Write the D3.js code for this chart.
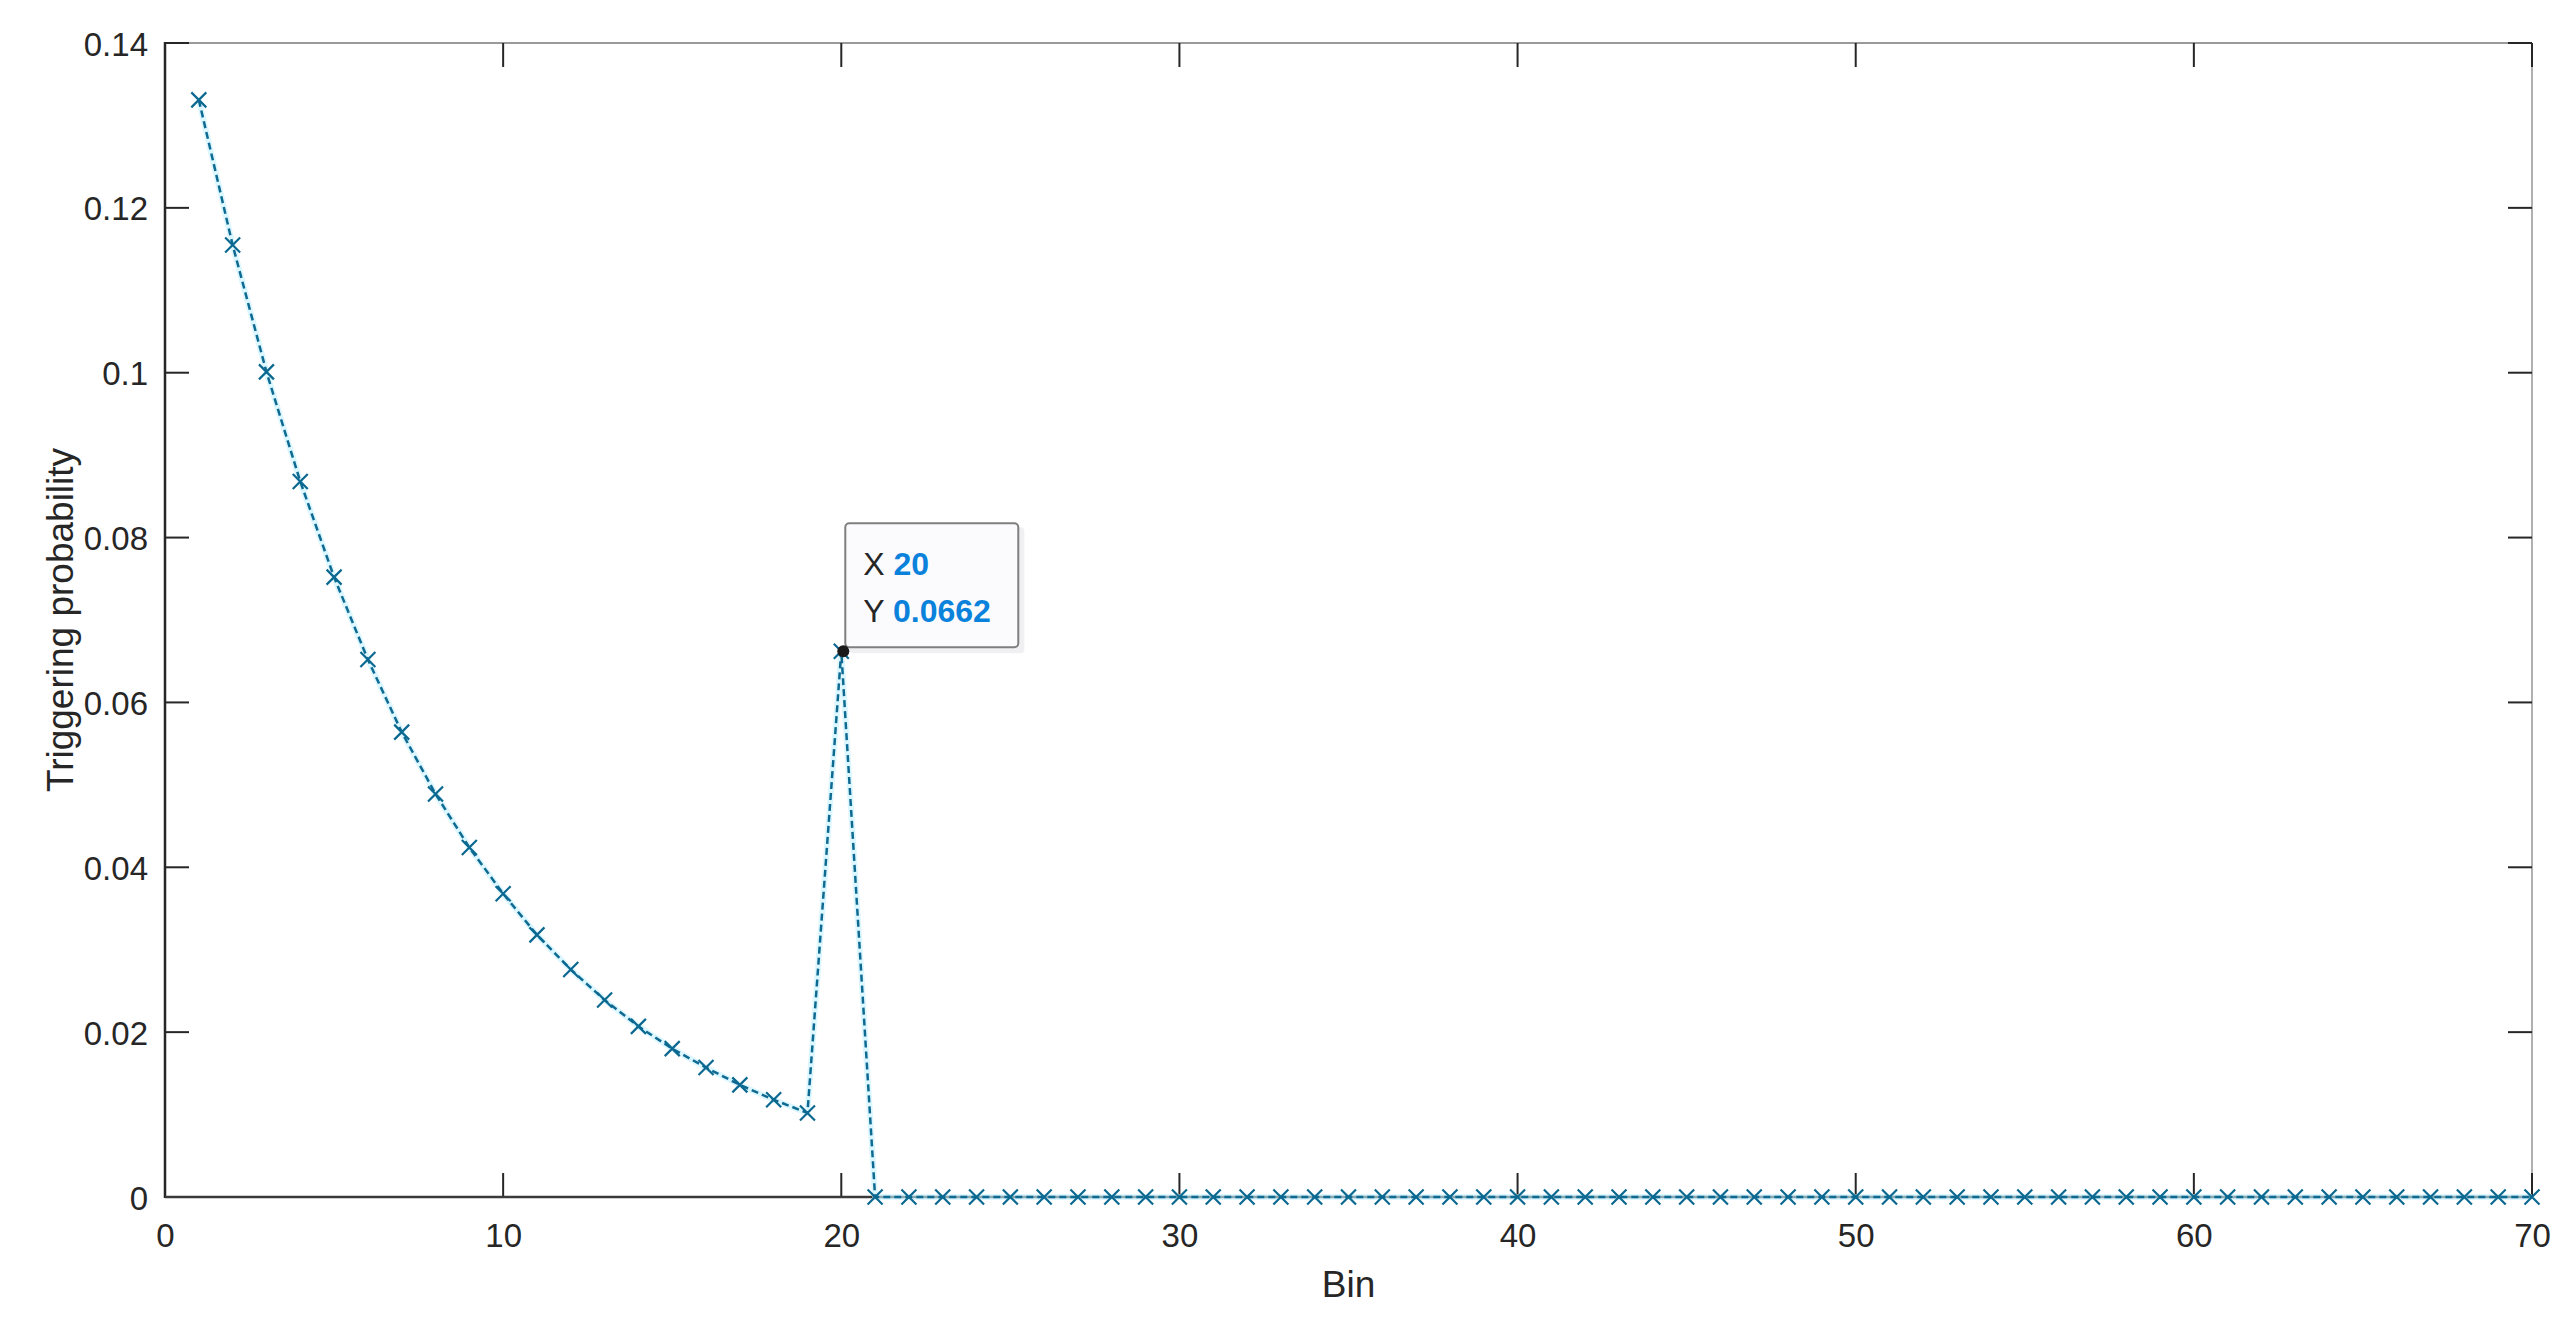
<!DOCTYPE html>
<html>
<head>
<meta charset="utf-8">
<script src="https://cdn.jsdelivr.net/npm/d3@7"></script>
<style>
  html, body { margin: 0; padding: 0; background: #fff; }
  svg text { font-family: "Liberation Sans", Arial, Helvetica, sans-serif; fill: #262626; }
</style>
</head>
<body>
<svg id="chart" width="2572" height="1328"></svg>
<script>
// values
const bins = [
  1, 2, 3, 4, 5, 6, 7, 8, 9, 10,
  11, 12, 13, 14, 15, 16, 17, 18, 19, 20,
  21, 22, 23, 24, 25, 26, 27, 28, 29, 30,
  31, 32, 33, 34, 35, 36, 37, 38, 39, 40,
  41, 42, 43, 44, 45, 46, 47, 48, 49, 50,
  51, 52, 53, 54, 55, 56, 57, 58, 59, 60,
  61, 62, 63, 64, 65, 66, 67, 68, 69, 70
];
const probability = [
  0.1331, 0.1155, 0.1001, 0.0868, 0.0752, 0.0652, 0.0564, 0.0489, 0.0424, 0.0368,
  0.0318, 0.0276, 0.0239, 0.0207, 0.0180, 0.0157, 0.0136, 0.0118, 0.0102, 0.0662,
  0, 0, 0, 0, 0, 0, 0, 0, 0, 0,
  0, 0, 0, 0, 0, 0, 0, 0, 0, 0,
  0, 0, 0, 0, 0, 0, 0, 0, 0, 0,
  0, 0, 0, 0, 0, 0, 0, 0, 0, 0,
  0, 0, 0, 0, 0, 0, 0, 0, 0, 0
];
const xTicks = [0, 10, 20, 30, 40, 50, 60, 70];
const yTicks = [0, 0.02, 0.04, 0.06, 0.08, 0.1, 0.12, 0.14];
const tipBin = 20;

const plotL = 165, plotR = 2532, plotT = 43, plotB = 1197;
const tickLen = 24;
const lineColor = "#0f6a92";

const svg = d3.select("#chart");

const x = d3.scaleLinear().domain([0, 70]).range([plotL, plotR]);
const y = d3.scaleLinear().domain([0, 0.14]).range([plotB, plotT]);

const points = bins.map((b, i) => ({ bin: b, p: probability[i] }));

// box: top and right edges lighter
svg.append("line").attr("x1", plotL).attr("x2", plotR).attr("y1", plotT).attr("y2", plotT)
  .attr("stroke", "#9a9a9a").attr("stroke-width", 2);
svg.append("line").attr("x1", plotR).attr("x2", plotR).attr("y1", plotT).attr("y2", plotB)
  .attr("stroke", "#b0b0b0").attr("stroke-width", 2);

// bottom axis
const xAxis = d3.axisBottom(x).tickValues(xTicks).tickSize(0).tickPadding(0)
  .tickFormat(d3.format("d"));
const gx = svg.append("g").attr("transform", `translate(0,${plotB})`).call(xAxis);
gx.select(".domain").remove();
gx.selectAll("text").attr("font-size", 33).attr("dy", null).attr("y", 50)
  .style("fill", "#262626");

// left axis
const yAxis = d3.axisLeft(y).tickValues(yTicks).tickSize(0).tickPadding(0)
  .tickFormat(d => d === 0 ? "0" : String(+d.toFixed(2)));
const gy = svg.append("g").attr("transform", `translate(${plotL},0)`).call(yAxis);
gy.select(".domain").remove();
gy.selectAll("text").attr("font-size", 33).attr("dy", null).attr("x", -17).attr("y", 12)
  .style("fill", "#262626");

// inward ticks on all four sides
const tickG = svg.append("g").attr("stroke", "#262626").attr("stroke-width", 2);
xTicks.forEach(t => {
  tickG.append("line").attr("x1", x(t)).attr("x2", x(t)).attr("y1", plotB).attr("y2", plotB - tickLen);
  tickG.append("line").attr("x1", x(t)).attr("x2", x(t)).attr("y1", plotT).attr("y2", plotT + tickLen);
});
yTicks.forEach(t => {
  tickG.append("line").attr("x1", plotL).attr("x2", plotL + tickLen).attr("y1", y(t)).attr("y2", y(t));
  tickG.append("line").attr("x1", plotR).attr("x2", plotR - tickLen).attr("y1", y(t)).attr("y2", y(t));
});

// left and bottom axis lines
svg.append("line").attr("x1", plotL).attr("x2", plotL).attr("y1", plotT - 1).attr("y2", plotB + 1)
  .attr("stroke", "#262626").attr("stroke-width", 2.5);
svg.append("line").attr("x1", plotL).attr("x2", plotR).attr("y1", plotB).attr("y2", plotB)
  .attr("stroke", "#3a3a3a").attr("stroke-width", 2.5);

// series
const line = d3.line().x(d => x(d.bin)).y(d => y(d.p));
svg.append("path").datum(points).attr("d", line)
  .attr("fill", "none").attr("stroke", "#c4f1ff").attr("stroke-width", 6).attr("opacity", 0.6);
svg.append("path").datum(points).attr("d", line)
  .attr("fill", "none").attr("stroke", lineColor).attr("stroke-width", 2.5)
  .attr("stroke-dasharray", "7,4");

const m = 7.5;
const marks = svg.append("g").selectAll("g").data(points).join("g")
  .attr("transform", d => `translate(${x(d.bin)},${y(d.p)})`);
marks.append("path").attr("d", `M${-m},${-m}L${m},${m}M${-m},${m}L${m},${-m}`)
  .attr("stroke", "#0b6890").attr("stroke-width", 2.2).attr("fill", "none");

// axis labels
svg.append("text").attr("x", (plotL + plotR) / 2).attr("y", 1297)
  .attr("text-anchor", "middle").attr("font-size", 37).text("Bin");
svg.append("text").attr("transform", `translate(73,${(plotT + plotB) / 2}) rotate(-90)`)
  .attr("text-anchor", "middle").attr("font-size", 37).text("Triggering probability");

// data tip
const tip = points.find(d => d.bin === tipBin);
const tx = x(tip.bin), ty = y(tip.p);
const box = svg.append("g");
box.append("rect").attr("x", tx + 8).attr("y", ty - 124).attr("width", 175).attr("height", 126)
  .attr("rx", 4).attr("fill", "#e6e6ea").attr("opacity", 0.6);
box.append("rect").attr("x", tx + 4).attr("y", ty - 128).attr("width", 173).attr("height", 124)
  .attr("rx", 4).attr("fill", "#fbfbfd").attr("stroke", "#7f7f7f").attr("stroke-width", 2);
const t1 = box.append("text").attr("x", tx + 22).attr("y", ty - 76).attr("font-size", 32);
t1.append("tspan").text("X ");
t1.append("tspan").attr("font-weight", "bold").style("fill", "#0a82dc").text(tip.bin);
const t2 = box.append("text").attr("x", tx + 22).attr("y", ty - 29).attr("font-size", 32);
t2.append("tspan").text("Y ");
t2.append("tspan").attr("font-weight", "bold").style("fill", "#0a82dc").text(tip.p.toFixed(4));
svg.append("circle").attr("cx", tx + 2).attr("cy", ty).attr("r", 6).attr("fill", "#1a1a1a");
</script>
</body>
</html>
